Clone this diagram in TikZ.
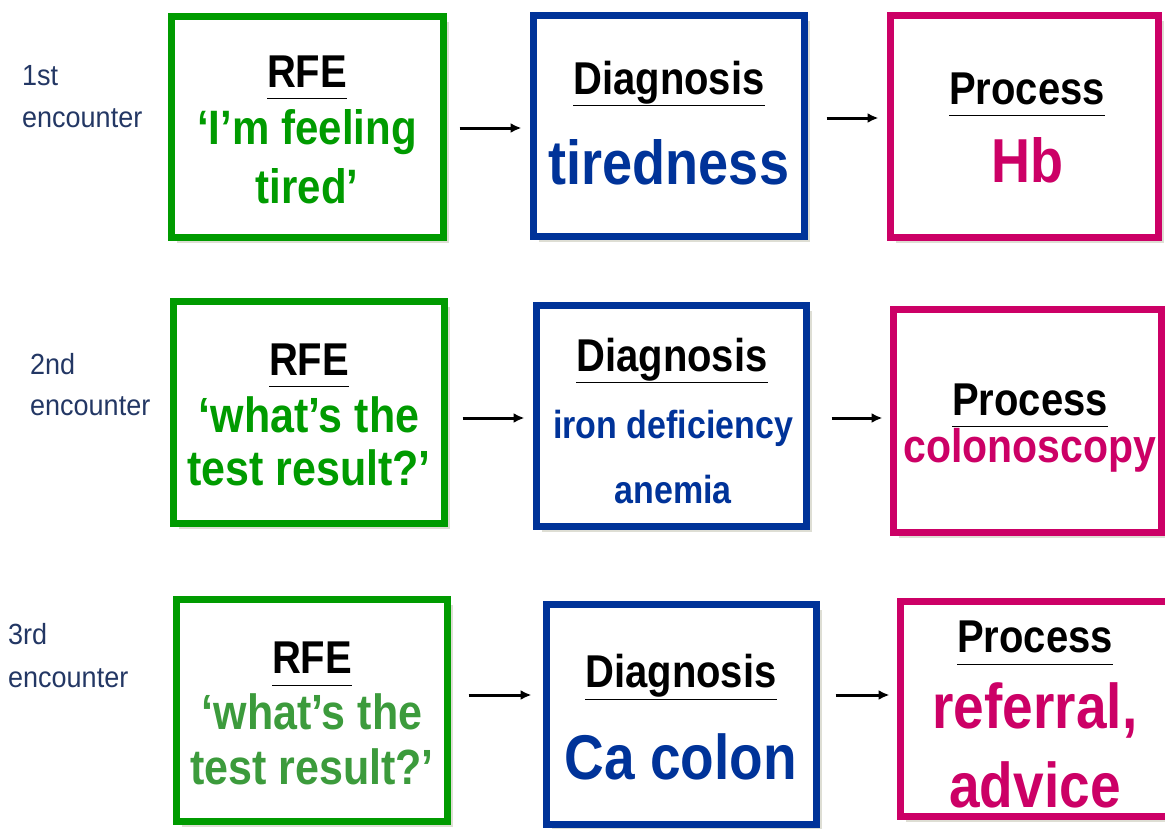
\documentclass[tikz,border=0pt]{standalone}
\usepackage{graphicx}
\usepackage{fontspec}
\setmainfont{Liberation Sans}
\usetikzlibrary{shadows,arrows.meta}
\definecolor{cgreen}{RGB}{0,155,0}
\definecolor{cgreenb}{RGB}{60,155,60}
\definecolor{cblue}{RGB}{0,51,153}
\definecolor{cpink}{RGB}{204,0,102}
\definecolor{clab}{RGB}{35,55,100}
\definecolor{cshadow}{RGB}{222,222,212}
\newcommand{\fs}[1]{\fontsize{#1}{#1}\selectfont}
\newcommand{\tb}[1]{\scalebox{1}[1.15]{#1}}
\newcommand{\ul}[1]{\tb{\underline{\smash{#1}\vphantom{g}}}}
\tikzset{
  box/.style={draw=#1, line width=7pt, fill=white, minimum width=271pt, minimum height=221pt,
    drop shadow={shadow xshift=5pt, shadow yshift=-5pt, fill=cshadow, opacity=1}},
  head/.style={font=\bfseries\fs{40}, text=black, inner sep=0pt},
  lab/.style={font=\fs{27}, text=clab, anchor=west, inner sep=0pt},
  arr/.style={line width=3pt, -{Latex[length=11pt,width=10pt]}},
}
\begin{document}
\begin{tikzpicture}[x=1pt,y=-1pt]
\useasboundingbox (0,0) rectangle (1165,828);
\clip (0,0) rectangle (1165,828);
% boxes
\node[box=cgreen, minimum width=272pt, minimum height=221pt] (r1) at (307.5,127) {};
\node[box=cblue, minimum width=271pt, minimum height=221pt] (d1) at (669,126) {};
\node[box=cpink, minimum width=268pt, minimum height=222pt] (p1) at (1024.5,126.5) {};
\node[box=cgreen, minimum width=271pt, minimum height=222pt] (r2) at (309,412.5) {};
\node[box=cblue, minimum width=270pt, minimum height=221pt] (d2) at (671.5,416) {};
\node[box=cpink, minimum width=268pt, minimum height=223pt] (p2) at (1027.5,421) {};
\node[box=cgreen, minimum width=271pt, minimum height=222pt] (r3) at (312,710.5) {};
\node[box=cblue, minimum width=270pt, minimum height=220pt] (d3) at (681.5,714.5) {};
\node[box=cpink, minimum width=271pt, minimum height=215pt] (p3) at (1036,709) {};
% labels
\node[lab] (l1a) at (22,76) {\scalebox{1}[1.08]{1st}};
\node[lab] (l1b) at (22,118) {\scalebox{1}[1.08]{encounter}};
\node[lab] (l2a) at (30,364) {\scalebox{1}[1.08]{2nd}};
\node[lab] (l2b) at (30,406) {\scalebox{1}[1.08]{encounter}};
\node[lab] (l3a) at (8,634) {\scalebox{1}[1.08]{3rd}};
\node[lab] (l3b) at (8,678) {\scalebox{1}[1.08]{encounter}};
% row 1 text
\node[head] (t1a) at (307,81) {\ul{RFE}};
\node[font=\bfseries\fs{42}, text=cgreen, inner sep=0pt] (t1b) at (307,132) {\tb{‘I’m feeling}};
\node[font=\bfseries\fs{42}, text=cgreen, inner sep=0pt] (t1c) at (307,186) {\tb{tired’}};
\node[head] (t1d) at (669,88) {\ul{Diagnosis}};
\node[font=\bfseries\fs{54}, text=cblue, inner sep=0pt] (t1e) at (669,162) {\tb{tiredness}};
\node[head] (t1f) at (1027,98) {\ul{Process}};
\node[font=\bfseries\fs{54}, text=cpink, inner sep=0pt] (t1g) at (1027,160) {\tb{Hb}};
% row 2 text
\node[head] (t2a) at (309,369) {\ul{RFE}};
\node[font=\bfseries\fs{43}, text=cgreen, inner sep=0pt] (t2b) at (309,415) {\tb{‘what’s the}};
\node[font=\bfseries\fs{43}, text=cgreen, inner sep=0pt] (t2c) at (309,468) {\tb{test result?’}};
\node[head] (t2d) at (672,365) {\ul{Diagnosis}};
\node[font=\bfseries\fs{34}, text=cblue, inner sep=0pt] (t2e) at (673,428) {\tb{iron deficiency}};
\node[font=\bfseries\fs{34}, text=cblue, inner sep=0pt] (t2f) at (673,490) {\tb{anemia}};
\node[head] (t2g) at (1030,409) {\ul{Process}};
\node[font=\bfseries\fs{41}, text=cpink, inner sep=0pt] (t2h) at (1030,450) {\tb{colonoscopy}};
% row 3 text
\node[head] (t3a) at (312,667) {\ul{RFE}};
\node[font=\bfseries\fs{43}, text=cgreenb, inner sep=0pt] (t3b) at (312,712) {\tb{‘what’s the}};
\node[font=\bfseries\fs{43}, text=cgreenb, inner sep=0pt] (t3c) at (312,767) {\tb{test result?’}};
\node[head] (t3d) at (681,681) {\ul{Diagnosis}};
\node[font=\bfseries\fs{55}, text=cblue, inner sep=0pt] (t3e) at (681,757) {\tb{Ca colon}};
\node[head] (t3f) at (1035,646) {\ul{Process}};
\node[font=\bfseries\fs{55}, text=cpink, inner sep=0pt] (t3g) at (1035,710) {\tb{referral,}};
\node[font=\bfseries\fs{55}, text=cpink, inner sep=0pt] (t3h) at (1035,785) {\tb{advice}};
% arrows
\draw[arr] ([xshift=12.5pt,yshift=-1pt]r1.east) -- ([xshift=-8.5pt,yshift=-2pt]d1.west);
\draw[arr] ([xshift=18.5pt,yshift=8pt]d1.east) -- ([xshift=-8.5pt,yshift=8.5pt]p1.west);
\draw[arr] ([xshift=14.5pt,yshift=-5.5pt]r2.east) -- ([xshift=-8.5pt,yshift=-2pt]d2.west);
\draw[arr] ([xshift=21.5pt,yshift=-2pt]d2.east) -- ([xshift=-7.5pt,yshift=3pt]p2.west);
\draw[arr] ([xshift=17.5pt,yshift=15.5pt]r3.east) -- ([xshift=-11.5pt,yshift=19.5pt]d3.west);
\draw[arr] ([xshift=15.5pt,yshift=19.5pt]d3.east) -- ([xshift=-7.5pt,yshift=14pt]p3.west);
\end{tikzpicture}
\end{document}
